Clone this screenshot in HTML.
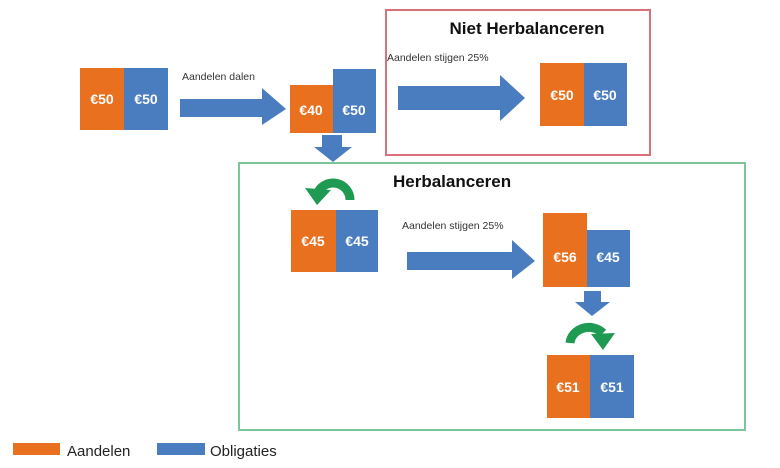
<!DOCTYPE html>
<html><head><meta charset="utf-8"><style>
html,body{margin:0;padding:0;background:#fff;}
svg{display:block;}
text{font-family:"Liberation Sans",sans-serif;}
.v{fill:#fff;font-weight:bold;font-size:14px;text-anchor:middle;}
</style></head><body>
<svg width="780" height="468" viewBox="0 0 780 468">
<rect x="386" y="10" width="264" height="145" fill="none" stroke="#d9707a" stroke-width="2"/>
<rect x="239" y="163" width="506" height="267" fill="none" stroke="#7cc49a" stroke-width="2"/>
<rect x="80" y="68" width="44" height="62" fill="#e8701e"/><rect x="124" y="68" width="44" height="62" fill="#4a7cc0"/>
<text class="v" x="102" y="104">€50</text><text class="v" x="146" y="104">€50</text>
<text x="182" y="80" font-size="10.5" fill="#333">Aandelen dalen</text>
<polygon points="180,99 262,99 262,88 286,109 262,125 262,117 180,117" fill="#4a7cc0"/>
<rect x="290" y="85" width="43" height="48" fill="#e8701e"/><rect x="333" y="69" width="43" height="64" fill="#4a7cc0"/>
<text class="v" x="311" y="115">€40</text><text class="v" x="354" y="115">€50</text>
<text x="527" y="34" font-size="17" font-weight="bold" text-anchor="middle" fill="#111">Niet Herbalanceren</text>
<text x="387" y="61" font-size="10.5" fill="#333">Aandelen stijgen 25%</text>
<polygon points="398,86 500,86 500,75 525,98 500,121 500,110 398,110" fill="#4a7cc0"/>
<rect x="540" y="63" width="44" height="63" fill="#e8701e"/><rect x="584" y="63" width="43" height="63" fill="#4a7cc0"/>
<text class="v" x="562" y="100">€50</text><text class="v" x="605" y="100">€50</text>
<polygon points="322,135 342,135 342,147 352,147 333,162 314,147 322,147" fill="#4a7cc0"/>
<path d="M350,200 A17,17 0 0 0 318,192" fill="none" stroke="#1f9a52" stroke-width="9"/>
<polygon points="305,188 331,190 317,205" fill="#1f9a52"/>
<text x="393" y="187" font-size="17" font-weight="bold" fill="#111">Herbalanceren</text>
<rect x="291" y="210" width="45" height="62" fill="#e8701e"/><rect x="336" y="210" width="42" height="62" fill="#4a7cc0"/>
<text class="v" x="313" y="246">€45</text><text class="v" x="357" y="246">€45</text>
<text x="402" y="229" font-size="10.5" fill="#333">Aandelen stijgen 25%</text>
<polygon points="407,252 512,252 512,240 535,261 512,279 512,270 407,270" fill="#4a7cc0"/>
<rect x="543" y="213" width="44" height="74" fill="#e8701e"/><rect x="587" y="230" width="43" height="57" fill="#4a7cc0"/>
<text class="v" x="565" y="262">€56</text><text class="v" x="608" y="262">€45</text>
<polygon points="584,291 601,291 601,302 610,302 592,316 575,302 584,302" fill="#4a7cc0"/>
<path d="M570,343 A19,17 0 0 1 603,333" fill="none" stroke="#1f9a52" stroke-width="9"/>
<polygon points="591,334 615,333 603,350" fill="#1f9a52"/>
<rect x="547" y="355" width="43" height="63" fill="#e8701e"/><rect x="590" y="355" width="44" height="63" fill="#4a7cc0"/>
<text class="v" x="568" y="392">€51</text><text class="v" x="612" y="392">€51</text>
<rect x="13" y="443" width="47" height="12" fill="#e8701e"/>
<text x="67" y="456" font-size="15" fill="#222">Aandelen</text>
<rect x="157" y="443" width="48" height="12" fill="#4a7cc0"/>
<text x="210" y="456" font-size="15" fill="#222">Obligaties</text>
</svg>
</body></html>
